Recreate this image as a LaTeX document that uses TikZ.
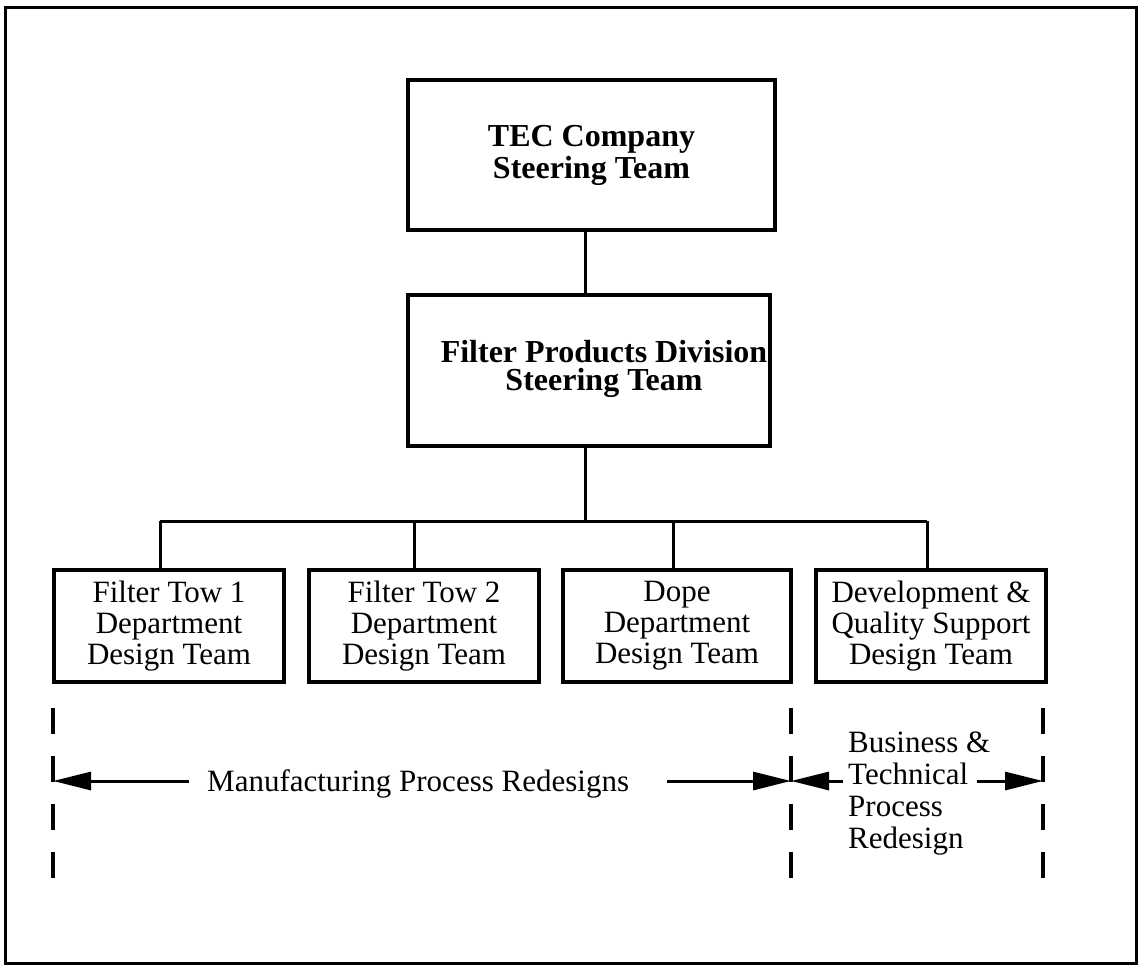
\documentclass[tikz,border=0pt]{standalone}
\usepackage{fontspec}
\setmainfont{Liberation Serif}
\usetikzlibrary{arrows.meta}
\begin{document}
\begin{tikzpicture}[x=1pt,y=-1pt,
  frame/.style={line width=3pt},
  box/.style={draw, line width=3.5pt, inner sep=0pt, align=center},
  link/.style={line width=3pt},
  guide/.style={line width=3.5pt, dash pattern=on 26pt off 22pt},
  span/.style={line width=3pt, -{Triangle[length=38pt,width=18pt]}},
  headtext/.style={font=\fontsize{32}{32}\selectfont\bfseries},
  teamtext/.style={font=\fontsize{31}{31}\selectfont},
  notetext/.style={font=\fontsize{31}{32}\selectfont}]

% page and outer frame
\fill[white] (0,0) rectangle (1138,966);
\useasboundingbox (0,0) rectangle (1138,966);
\draw[frame] (5.5,7.3) rectangle (1136.5,963);

% steering teams
\node[box, headtext, minimum width=367pt, minimum height=150pt] (tec) at (591.5,155)
  {TEC Company\\Steering Team};
\node[box, minimum width=362pt, minimum height=151pt] (fpd) at (589,370.5) {};
\node[inner sep=0pt, align=center, font=\fontsize{32}{28}\selectfont\bfseries] (fpdtext) at (604,369)
  {Filter Products Division\\Steering Team};

% design teams
\node[box, teamtext, minimum width=230pt, minimum height=112pt] (b1) at (169,626)
  {Filter Tow 1\\Department\\Design Team};
\node[box, teamtext, minimum width=230pt, minimum height=112pt] (b2) at (424,626)
  {Filter Tow 2\\Department\\Design Team};
\node[box, teamtext, minimum width=228pt, minimum height=112pt] (b3) at (677,626)
  {Dope\\Department\\Design Team};
\node[box, teamtext, minimum width=230pt, minimum height=112pt] (b4) at (931,626)
  {Development \&\\Quality Support\\Design Team};

% reporting lines
\coordinate (hub) at (585,521);
\coordinate (j1) at (160,521);
\coordinate (j2) at (414,521);
\coordinate (j3) at (673,521);
\coordinate (j4) at (927,521);
\draw[link] (tec.south -| hub) -- (fpd.north -| hub);
\draw[link] (fpd.south -| hub) -- (hub);
\draw[link] (j1) -- (j4);
\foreach \i in {1,2,3,4} {
  \draw[link] (j\i) -- (b\i.north -| j\i);
}

% scope guides
\coordinate (g1t) at (53,708);   \coordinate (g1b) at (53,878);
\coordinate (g2t) at (791,708);  \coordinate (g2b) at (791,878);
\coordinate (g3t) at (1043,708); \coordinate (g3b) at (1043,878);
\draw[guide] (g1t) -- (g1b);
\draw[guide] (g2t) -- (g2b);
\draw[guide] (g3t) -- (g3b);

% redesign spans
\node[teamtext, anchor=base west, inner sep=0pt] (mfg) at (207,791)
  {Manufacturing Process Redesigns};
\node[notetext, align=left, anchor=north west, inner sep=0pt] (btp) at (848,731.5)
  {Business \&\\Technical\\Process\\Redesign};
\coordinate (m1) at (189,781);
\coordinate (m2) at (667,781);
\coordinate (p1) at (843,781);
\coordinate (p2) at (977,781);
\draw[span] (m1) -- (m1 -| g1t);
\draw[span] (m2) -- (m2 -| g2t);
\draw[span] (p1) -- (p1 -| g2t);
\draw[span] (p2) -- (p2 -| g3t);
\end{tikzpicture}
\end{document}
